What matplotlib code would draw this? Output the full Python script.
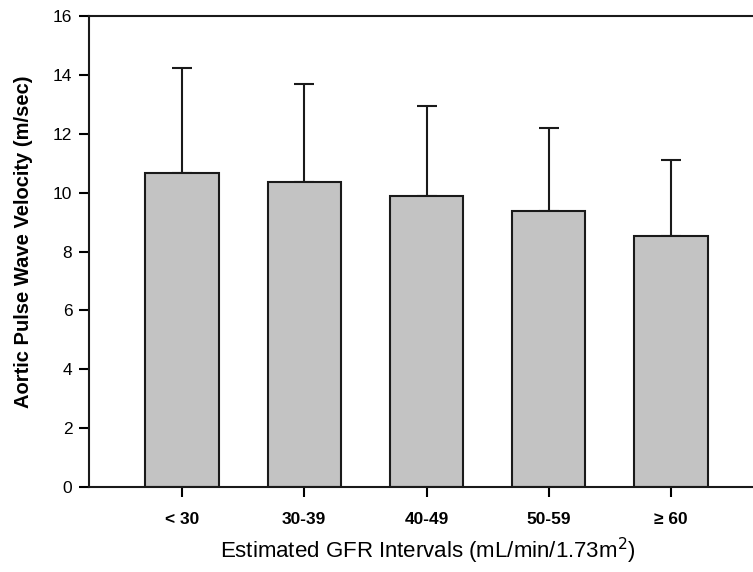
import matplotlib
matplotlib.use("Agg")
import matplotlib.pyplot as plt

categories = ["< 30", "30-39", "40-49", "50-59", "\u2265 60"]
means = [10.66, 10.37, 9.88, 9.37, 8.51]
sds = [3.56, 3.33, 3.06, 2.83, 2.59]
yticks = [0, 2, 4, 6, 8, 10, 12, 14, 16]

plt.rcParams['font.family'] = ['Liberation Sans', 'DejaVu Sans']

W, H = 753, 572
fig = plt.figure(figsize=(W / 100, H / 100), dpi=100)
ax = fig.add_axes([89 / W, (H - 487) / H, (W - 89) / W, (487 - 16) / H])

x = list(range(len(categories)))
ax.bar(x, means, width=0.6, color="#c3c3c3", edgecolor="#1a1a1a", linewidth=1.5, zorder=2)
ax.errorbar(x, means, yerr=[[0] * len(sds), sds], fmt="none", ecolor="#1a1a1a",
            elinewidth=1.5, capsize=7.5, capthick=1.5, zorder=1)

ax.set_xlim(-0.76, 4.67)
ax.set_ylim(0, 16)
ax.set_yticks(yticks)
ax.set_xticks(x)
ax.set_xticklabels(categories, fontsize=12.5, fontweight="bold")
ax.tick_params(axis="y", labelsize=12.5, direction="out", length=7, width=1.5, pad=5)
ax.tick_params(axis="x", direction="out", length=7, width=1.5, pad=11)
for s in ["left", "bottom", "top"]:
    ax.spines[s].set_linewidth(1.5)
    ax.spines[s].set_color("#1a1a1a")
ax.spines["right"].set_visible(False)

ax.set_ylabel("Aortic Pulse Wave Velocity (m/sec)", fontsize=14.5, fontweight="bold")
ax.yaxis.set_label_coords(-0.084, 0.52)
ax.set_xlabel("Estimated GFR Intervals (mL/min/1.73m$^2$)", fontsize=16)
ax.xaxis.set_label_coords(0.51, -0.104)

fig.savefig("out.png", dpi=100)
